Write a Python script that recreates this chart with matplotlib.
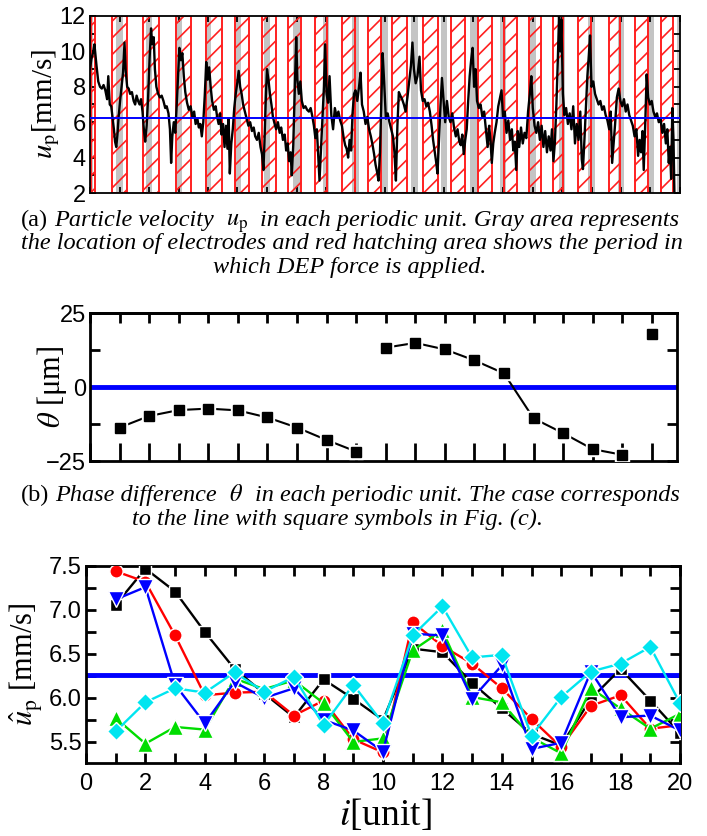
import matplotlib
matplotlib.use("Agg")
import matplotlib.pyplot as plt
from matplotlib.ticker import MultipleLocator, NullFormatter
from matplotlib.transforms import IdentityTransform
import numpy as np

# ---------------- (a) particle velocity trace ----------------
t_a = [0.00, 0.05, 0.10, 0.15, 0.22, 0.28, 0.34, 0.40, 0.46, 0.52, 0.58, 0.62, 0.67, 0.72, 0.77,
       0.81, 0.85, 0.89, 0.93, 0.97, 1.02, 1.07, 1.12, 1.17, 1.21, 1.26, 1.31, 1.36, 1.42, 1.48,
       1.53, 1.58, 1.63, 1.68, 1.73, 1.78, 1.83, 1.87, 1.92, 1.97, 2.02, 2.07, 2.11, 2.16, 2.20,
       2.25, 2.31, 2.37, 2.43, 2.49, 2.55, 2.60, 2.66, 2.71, 2.75, 2.79, 2.84, 2.89, 2.94, 2.99,
       3.03, 3.08, 3.13, 3.18, 3.23, 3.29, 3.35, 3.41, 3.47, 3.53, 3.58, 3.64, 3.69, 3.74, 3.79,
       3.84, 3.89, 3.94, 3.99, 4.04, 4.09, 4.14, 4.20, 4.26, 4.31, 4.36, 4.41, 4.46, 4.51, 4.56,
       4.61, 4.66, 4.70, 4.74, 4.79, 4.84, 4.89, 4.94, 4.99, 5.04, 5.09, 5.14, 5.19, 5.25, 5.31,
       5.37, 5.43, 5.49, 5.55, 5.60, 5.66, 5.72, 5.78, 5.83, 5.88, 5.92, 5.96, 6.00, 6.05, 6.10,
       6.15, 6.20, 6.26, 6.31, 6.37, 6.43, 6.48, 6.54, 6.60, 6.65, 6.70, 6.75, 6.80, 6.84, 6.89,
       6.94, 6.99, 7.03, 7.08, 7.13, 7.18, 7.24, 7.30, 7.36, 7.42, 7.48, 7.54, 7.59, 7.64, 7.69,
       7.74, 7.78, 7.83, 7.88, 7.93, 7.97, 8.02, 8.07, 8.12, 8.18, 8.24, 8.30, 8.36, 8.42, 8.48,
       8.54, 8.60, 8.65, 8.70, 8.75, 8.80, 8.85, 8.90, 8.95, 9.00, 9.06, 9.12, 9.17, 9.22, 9.28,
       9.34, 9.40, 9.46, 9.52, 9.58, 9.63, 9.68, 9.73, 9.78, 9.83, 9.88, 9.92, 9.97, 10.03, 10.09,
       10.15, 10.21, 10.27, 10.32, 10.37, 10.42, 10.47, 10.52, 10.58, 10.64, 10.70, 10.76, 10.82,
       10.88, 10.93, 10.98, 11.04, 11.10, 11.17, 11.22, 11.28, 11.34, 11.40, 11.46, 11.52, 11.58,
       11.63, 11.68, 11.73, 11.78, 11.83, 11.88, 11.93, 11.98, 12.04, 12.10, 12.16, 12.22, 12.28,
       12.34, 12.40, 12.46, 12.52, 12.57, 12.62, 12.67, 12.72, 12.77, 12.82, 12.87, 12.92, 12.97,
       13.02, 13.07, 13.12, 13.18, 13.24, 13.30, 13.36, 13.42, 13.48, 13.53, 13.58, 13.62, 13.67,
       13.72, 13.78, 13.84, 13.90, 13.95, 14.00, 14.06, 14.12, 14.18, 14.24, 14.30, 14.35, 14.40,
       14.45, 14.50, 14.55, 14.61, 14.67, 14.73, 14.79, 14.85, 14.91, 14.96, 15.01, 15.07, 15.13,
       15.19, 15.25, 15.31, 15.37, 15.43, 15.49, 15.55, 15.61, 15.66, 15.71, 15.76, 15.81, 15.86,
       15.90, 15.94, 15.98, 16.03, 16.08, 16.14, 16.20, 16.26, 16.32, 16.38, 16.44, 16.50, 16.56,
       16.62, 16.67, 16.71, 16.76, 16.81, 16.86, 16.91, 16.95, 17.00, 17.06, 17.12, 17.18, 17.24,
       17.30, 17.36, 17.42, 17.48, 17.54, 17.60, 17.65, 17.70, 17.75, 17.80, 17.86, 17.92, 17.98,
       18.04, 18.10, 18.16, 18.22, 18.28, 18.34, 18.40, 18.46, 18.52, 18.58, 18.63, 18.68, 18.73,
       18.77, 18.82, 18.87, 18.92, 18.98, 19.04, 19.10, 19.16, 19.22, 19.28, 19.34, 19.40, 19.46,
       19.52, 19.57, 19.62, 19.66, 19.70, 19.74, 19.78, 19.81]
u_a = [9.0, 9.6, 9.9, 10.4, 9.2, 8.3, 8.0, 7.9, 8.1, 7.8, 7.3, 8.6, 7.0, 6.9, 6.2,
       5.6, 4.9, 4.6, 5.3, 6.3, 7.2, 8.0, 8.8, 10.5, 8.9, 8.0, 7.9, 7.6, 7.7, 7.2,
       7.0, 7.5, 7.2, 7.0, 7.3, 6.6, 5.5, 4.9, 5.8, 7.4, 9.6, 11.3, 10.4, 10.8, 9.0,
       8.0, 7.6, 7.4, 7.5, 7.2, 6.8, 6.9, 6.5, 5.6, 3.7, 5.2, 6.0, 5.4, 7.0, 8.8,
       10.2, 9.5, 9.9, 8.6, 7.7, 7.1, 6.7, 6.9, 6.3, 6.6, 5.9, 6.2, 5.7, 5.9, 5.2,
       6.0, 7.5, 9.4, 8.4, 9.1, 8.0, 7.2, 6.7, 6.9, 6.3, 5.9, 6.5, 5.3, 5.9, 4.6,
       5.8, 4.5, 6.2, 3.1, 4.8, 5.6, 6.8, 7.6, 8.2, 8.9, 8.0, 7.6, 7.0, 6.6, 6.2,
       5.8, 6.0, 5.5, 5.7, 5.2, 5.0, 5.4, 4.6, 4.2, 3.3, 5.2, 7.4, 9.0, 8.4, 7.6,
       7.0, 6.3, 5.9, 5.6, 6.0, 5.4, 5.7, 5.0, 5.3, 4.4, 4.8, 3.8, 4.3, 3.0, 4.7,
       7.8, 10.8, 8.4, 7.6, 8.3, 7.2, 6.8, 6.9, 6.7, 6.6, 6.8, 6.3, 5.8, 5.1, 5.6,
       4.0, 2.7, 4.5, 6.4, 8.0, 10.4, 7.6, 7.1, 8.6, 6.4, 5.6, 6.8, 6.3, 6.6, 6.1,
       5.8, 5.1, 4.7, 4.5, 4.0, 5.0, 4.4, 6.5, 7.6, 7.8, 7.2, 8.0, 8.8, 7.0, 6.6,
       5.9, 6.3, 5.6, 5.2, 4.7, 4.2, 3.6, 3.2, 2.7, 4.3, 7.5, 9.9, 8.3, 6.2, 6.5,
       6.0, 5.6, 5.2, 4.3, 2.7, 5.8, 7.7, 7.5, 7.3, 7.0, 6.6, 7.4, 8.3,
       9.2, 10.5, 9.0, 8.2, 8.6, 9.7, 7.8, 7.2, 7.3, 6.9, 7.1, 6.6, 5.8,
       5.0, 4.4, 3.8, 3.1, 5.0, 6.9, 8.5, 7.4, 6.0, 7.2, 6.3, 6.0, 6.5,
       5.7, 5.2, 5.6, 4.9, 4.7, 5.3, 4.2, 5.0, 5.6, 7.2, 8.6, 9.5, 10.2,
       8.0, 9.0, 7.2, 6.8, 7.0, 6.3, 6.6, 5.6, 4.6, 5.8, 4.9, 3.7, 4.8,
       5.4, 6.0, 6.9, 7.4, 7.8, 6.3, 6.6, 5.4, 6.1, 5.0, 5.6, 4.4, 4.9,
       3.3, 5.5, 4.6, 5.7, 4.8, 5.4, 5.1, 6.6, 7.6, 8.6, 6.8, 5.8, 5.4,
       6.0, 5.0, 5.8, 4.6, 5.5, 4.3, 5.2, 4.4, 5.6, 3.8, 4.9, 7.0, 9.6,
       12.0, 10.0, 11.8, 7.6, 6.4, 6.8, 5.9, 6.5, 5.6, 6.9, 4.8, 5.9, 5.0,
       6.6, 3.9, 3.35, 5.0, 6.8, 8.6, 9.8, 10.9, 8.0, 8.3, 7.6, 7.3, 7.0,
       7.2, 6.7, 6.9, 6.4, 6.1, 5.6, 6.6, 3.7, 4.8, 5.9, 7.4, 7.9, 7.2,
       6.9, 7.3, 6.6, 7.0, 6.4, 6.1, 5.8, 5.2, 5.6, 4.1, 5.0, 4.3, 5.5,
       3.3, 5.8, 8.7, 7.4, 7.0, 7.2, 6.6, 6.3, 6.5, 6.0, 6.2, 5.4, 5.9,
       4.8, 5.6, 3.7, 4.6, 2.8, 6.8, 5.0, 2.0]
u_mean = 6.25

# DEP-on windows (red hatching) and electrode positions (gray), in units
dep_start = [0.03, 0.73, 1.80, 2.91, 3.93, 4.91, 5.84, 6.72, 7.64, 8.54, 9.42, 10.25,
             11.28, 12.23, 13.14, 14.03, 14.87, 15.68, 16.54, 17.59, 18.46, 19.36]
dep_end = [0.16, 1.24, 2.35, 3.44, 4.46, 5.38, 6.31, 7.14, 8.04, 8.99, 9.86, 10.74,
           11.78, 12.71, 13.63, 14.48, 15.28, 16.04, 16.99, 17.97, 18.91, 19.76]
electrodes = list(range(0, 21))
electrode_w = 0.22

# ---------------- (b) phase difference ----------------
unit_b = list(range(1, 20))
theta = [-13.7, -9.8, -7.8, -7.3, -7.9, -10.3, -13.7, -17.9, -21.8,
         13.3, 14.9, 12.7, 9.0, 4.6, -10.6, -15.6, -21.0, -22.9, 18.0]

# ---------------- (c) mean velocity per unit ----------------
unit_c = list(range(1, 21))
up_square = [7.06, 7.47, 7.21, 6.75, 6.33, 6.05, 5.78, 6.21, 5.99, 5.75,
             6.56, 6.52, 6.17, 5.88, 5.59, 5.46, 5.99, 6.33, 5.97, 5.60]
up_circle = [7.44, 7.32, 6.71, 6.03, 6.06, 6.07, 5.80, 5.97, 5.53, 5.38,
             6.86, 6.59, 6.39, 6.11, 5.76, 5.44, 5.91, 6.03, 5.65, 5.69]
up_tri_up = [5.77, 5.48, 5.67, 5.64, 6.22, 6.10, 6.20, 5.94, 5.50, 5.54,
             6.54, 6.77, 6.01, 5.95, 5.55, 5.37, 6.11, 5.88, 5.65, 5.82]
up_tri_dn = [7.12, 7.26, 6.15, 5.71, 6.18, 6.00, 6.11, 5.75, 5.63, 5.39,
             6.73, 6.71, 5.99, 6.37, 5.42, 5.49, 6.30, 5.78, 5.80, 5.63]
up_diamond = [5.62, 5.95, 6.11, 6.06, 6.29, 6.07, 6.24, 5.69, 6.15, 5.71,
              6.71, 7.04, 6.46, 6.49, 5.57, 6.01, 6.30, 6.39, 6.58, 5.94]
up_mean = 6.26

plt.rcParams['font.family'] = ['Liberation Sans Narrow', 'Liberation Sans', 'DejaVu Sans']
plt.rcParams['mathtext.fontset'] = 'stix'
plt.rcParams['hatch.linewidth'] = 1.2
SERIF = 'Liberation Serif'

fig = plt.figure(figsize=(7.07, 8.36), dpi=100)
W, H = 707, 836


def box(l, t, r, b):
    return [l / W, 1 - b / H, (r - l) / W, (b - t) / H]


def style_ax(ax, lw, length, size):
    for s in ax.spines.values():
        s.set_linewidth(lw)
    ax.tick_params(which='both', direction='in', top=True, right=True,
                   length=length, width=lw, labelsize=size)


# ---------- panel (a) ----------
ax_a = fig.add_axes(box(90, 16, 680, 193))
for e in electrodes:
    ax_a.axvspan(e - electrode_w / 2, e + electrode_w / 2, color='#c4c4c4', lw=0, zorder=1)
for s, e in zip(dep_start, dep_end):
    ax_a.axvspan(s, e, fill=False, hatch='//', edgecolor='#ff2020', lw=1.4, zorder=2)
ax_a.plot(t_a, u_a, color='black', lw=1.7, zorder=3)
ax_a.axhline(u_mean, color='blue', lw=1.4, zorder=4)
ax_a.set_xlim(0, 20)
ax_a.set_ylim(2, 12)
ax_a.xaxis.set_major_locator(MultipleLocator(1))
ax_a.xaxis.set_major_formatter(NullFormatter())
ax_a.yaxis.set_major_locator(MultipleLocator(2))
ax_a.yaxis.set_minor_locator(MultipleLocator(1))
style_ax(ax_a, 1.3, 4, 17)
ax_a.tick_params(axis='y', pad=3)
ax_a.set_ylabel(r'$u_\mathrm{p}$[mm/s]', family=SERIF, fontsize=21, va='center')
ax_a.yaxis.set_label_coords(-0.075, 0.5)

# ---------- panel (b) ----------
ax_b = fig.add_axes(box(90, 313, 677, 461))
ax_b.axhline(0, color='blue', lw=3.5, zorder=2)
th = np.array(theta, dtype=float)
xb = np.array(unit_b, dtype=float)
cuts = np.where(np.abs(np.diff(th)) > 20)[0] + 1
for seg_x, seg_y in zip(np.split(xb, cuts), np.split(th, cuts)):
    ax_b.plot(seg_x, seg_y, color='black', lw=1.5, zorder=3)
ax_b.plot(xb, th, 's', ms=10.5, color='white', zorder=4)
ax_b.plot(xb, th, 's', ms=7, color='black', zorder=5)
ax_b.set_xlim(0, 19.85)
ax_b.set_ylim(-25, 25)
ax_b.xaxis.set_major_locator(MultipleLocator(1))
ax_b.xaxis.set_major_formatter(NullFormatter())
ax_b.yaxis.set_major_locator(MultipleLocator(25))
ax_b.yaxis.set_minor_locator(MultipleLocator(12.5))
style_ax(ax_b, 2, 7, 17)
ax_b.tick_params(axis='x', length=13, top=False)
ax_b.tick_params(axis='y', pad=3)
top_b = ax_b.secondary_xaxis('top')
top_b.xaxis.set_major_locator(MultipleLocator(1))
top_b.xaxis.set_major_formatter(NullFormatter())
top_b.tick_params(direction='in', length=7, width=2)
top_b.spines['top'].set_linewidth(2)
ax_b.set_ylabel(r'$\theta$ [μm]', family=SERIF, fontsize=22, va='center')
ax_b.yaxis.set_label_coords(-0.065, 0.5)

# ---------- panel (c) ----------
ax_c = fig.add_axes(box(86, 566, 680, 763))
ax_c.axhline(up_mean, color='blue', lw=3.5, zorder=2)
series = [
    (up_square, 'black', 's', 8.5),
    (up_circle, '#ff0000', 'o', 9.5),
    (up_tri_up, '#00dd00', '^', 11),
    (up_tri_dn, '#0000ff', 'v', 11),
    (up_diamond, '#00e5f0', 'D', 9.5),
]
for i, (vals, col, mk, ms) in enumerate(series):
    ax_c.plot(unit_c, vals, color=col, lw=1.7, marker=mk, ms=ms,
              mec='white', mew=1.0, zorder=3 + i)
ax_c.set_xlim(0, 20)
ax_c.set_ylim(5.26, 7.5)
ax_c.xaxis.set_major_locator(MultipleLocator(2))
ax_c.xaxis.set_minor_locator(MultipleLocator(1))
ax_c.yaxis.set_major_locator(MultipleLocator(0.5))
ax_c.yaxis.set_minor_locator(MultipleLocator(0.25))
ax_c.yaxis.set_major_formatter(plt.FormatStrFormatter('%.1f'))
style_ax(ax_c, 2, 7, 17)
ax_c.tick_params(axis='x', pad=7)
ax_c.tick_params(axis='y', pad=3)
ax_c.set_ylabel(r'$\hat{u}_\mathrm{p}$ [mm/s]', family=SERIF, fontsize=22, va='center')
ax_c.yaxis.set_label_coords(-0.1, 0.5)
fig.text(385 / W, 1 - 815 / H, r'$i$[unit]', family=SERIF, fontsize=27,
         ha='center', va='center')


# ---------- captions ----------
def caption(pieces, base_y, size, x_left=None, x_center=None):
    r = fig.canvas.get_renderer()
    gap_px = size * 100 / 72 * 0.25
    arts = []
    for text, st, ngap in pieces:
        a = fig.text(0, H - base_y, text, transform=IdentityTransform(), fontsize=size,
                     family=SERIF, style=st, va='baseline', ha='left')
        arts.append((a, ngap * gap_px))
    widths = [a.get_window_extent(r).width for a, _ in arts]
    total = sum(widths) + sum(g for _, g in arts[1:])
    x = x_left if x_left is not None else x_center - total / 2
    for (a, g), w in zip(arts, widths):
        x += g
        a.set_x(x)
        x += w


cap = 17.5
caption([('(a)', 'normal', 0), ('Particle velocity', 'italic', 1), (r'$u_\mathrm{p}$', 'normal', 2),
         ('in each periodic unit. Gray area represents', 'italic', 2)], 226, cap, x_center=350)
caption([('the location of electrodes and red hatching area shows the period in', 'italic', 0)],
        249.5, cap, x_center=352)
caption([('which DEP force is applied.', 'italic', 0)], 273, cap, x_center=350)
caption([('(b)', 'normal', 0), ('Phase difference', 'italic', 1), (r'$\theta$', 'normal', 2),
         ('in each periodic unit. The case corresponds', 'italic', 2)], 501, cap, x_center=350)
caption([('to the line with square symbols in Fig. (c).', 'italic', 0)], 525, cap, x_center=338)

fig.savefig('out.png', dpi=100)
